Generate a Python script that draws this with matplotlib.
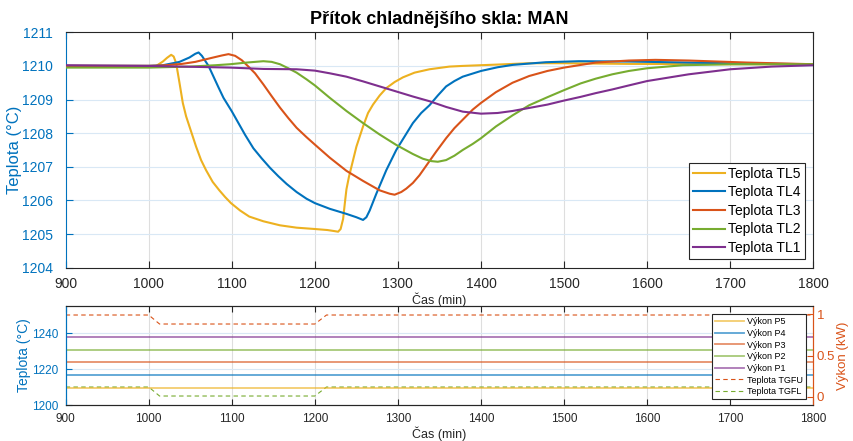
import matplotlib
matplotlib.use("Agg")
import matplotlib.pyplot as plt

plt.rcParams["font.family"] = ["Liberation Sans", "DejaVu Sans"]

# --- temperatures in the feeder (top panel) ---
t_tl5 = [900, 1000, 1009, 1017, 1022, 1027, 1030, 1033, 1037, 1041, 1045, 1049, 1057, 1063,
         1069, 1077, 1085, 1092, 1099, 1110, 1121, 1138, 1158, 1178, 1200, 1215, 1223, 1228,
         1231, 1234, 1236, 1238, 1241, 1244, 1250, 1258, 1264, 1270, 1278, 1286, 1296, 1306,
         1320, 1338, 1362, 1378, 1420, 1458, 1500, 1578, 1700, 1800]
tl5 = [1210.0, 1210.0, 1210.0, 1210.13, 1210.24, 1210.33, 1210.28, 1210.08, 1209.5, 1208.9,
       1208.5, 1208.2, 1207.6, 1207.2, 1206.9, 1206.55, 1206.3, 1206.1, 1205.92, 1205.7,
       1205.52, 1205.38, 1205.26, 1205.19, 1205.15, 1205.12, 1205.09, 1205.07, 1205.15,
       1205.45, 1205.9, 1206.33, 1206.7, 1207.0, 1207.6, 1208.2, 1208.6, 1208.85, 1209.12,
       1209.34, 1209.52, 1209.66, 1209.8, 1209.9, 1209.98, 1210.0, 1210.04, 1210.08, 1210.08,
       1210.06, 1210.05, 1210.05]

t_tl4 = [900, 1000, 1017, 1037, 1049, 1056, 1060, 1064, 1068, 1072, 1078, 1084, 1090, 1095,
         1100, 1108, 1116, 1126, 1136, 1146, 1156, 1166, 1178, 1190, 1200, 1218, 1238, 1250,
         1258, 1262, 1266, 1270, 1274, 1280, 1286, 1292, 1298, 1308, 1318, 1328, 1338, 1348,
         1358, 1368, 1378, 1400, 1420, 1438, 1478, 1518, 1578, 1650, 1720, 1800]
tl4 = [1210.0, 1210.0, 1210.02, 1210.12, 1210.25, 1210.36, 1210.4, 1210.3, 1210.15, 1210.0,
       1209.68, 1209.36, 1209.05, 1208.85, 1208.65, 1208.3, 1207.95, 1207.55, 1207.25,
       1206.97, 1206.72, 1206.49, 1206.25, 1206.05, 1205.92, 1205.75, 1205.6, 1205.5,
       1205.42, 1205.5, 1205.7, 1205.95, 1206.2, 1206.55, 1206.9, 1207.2, 1207.5, 1207.9,
       1208.3, 1208.6, 1208.83, 1209.12, 1209.39, 1209.55, 1209.68, 1209.85, 1209.96,
       1210.03, 1210.11, 1210.14, 1210.13, 1210.1, 1210.07, 1210.05]

t_tl3 = [900, 1000, 1020, 1040, 1056, 1076, 1088, 1096, 1104, 1112, 1120, 1128, 1138, 1148,
         1158, 1168, 1178, 1190, 1200, 1218, 1238, 1258, 1278, 1290, 1296, 1304, 1310, 1318,
         1326, 1336, 1346, 1358, 1368, 1378, 1390, 1400, 1418, 1438, 1458, 1480, 1500, 1538,
         1578, 1610, 1650, 1720, 1800]
tl3 = [1210.0, 1210.0, 1210.02, 1210.06, 1210.12, 1210.24, 1210.31, 1210.35, 1210.3, 1210.17,
       1209.98, 1209.78, 1209.45, 1209.1, 1208.76, 1208.45, 1208.16, 1207.88, 1207.66, 1207.27,
       1206.88, 1206.58, 1206.3, 1206.2, 1206.17, 1206.25, 1206.35, 1206.52, 1206.75, 1207.1,
       1207.45, 1207.85, 1208.15, 1208.4, 1208.7, 1208.9, 1209.22, 1209.5, 1209.7, 1209.85,
       1209.95, 1210.1, 1210.16, 1210.18, 1210.16, 1210.1, 1210.05]

t_tl2 = [900, 1000, 1050, 1080, 1098, 1118, 1138, 1148, 1158, 1168, 1178, 1190, 1200, 1218,
         1238, 1258, 1278, 1298, 1318, 1330, 1340, 1348, 1358, 1368, 1378, 1390, 1400, 1418,
         1438, 1458, 1480, 1500, 1520, 1538, 1558, 1578, 1600, 1643, 1700, 1800]
tl2 = [1209.95, 1209.95, 1209.98, 1210.02, 1210.05, 1210.1, 1210.14, 1210.12, 1210.05,
       1209.93, 1209.8, 1209.6, 1209.42, 1209.05, 1208.66, 1208.3, 1207.96, 1207.65, 1207.38,
       1207.24, 1207.17, 1207.15, 1207.2, 1207.33, 1207.5, 1207.68, 1207.85, 1208.2, 1208.53,
       1208.83, 1209.07, 1209.28, 1209.48, 1209.62, 1209.75, 1209.85, 1209.93, 1210.02,
       1210.05, 1210.05]

t_tl1 = [900, 1000, 1098, 1138, 1178, 1200, 1218, 1238, 1258, 1278, 1298, 1318, 1338, 1358,
         1378, 1400, 1420, 1438, 1458, 1480, 1500, 1520, 1538, 1558, 1578, 1600, 1650, 1700,
         1750, 1800]
tl1 = [1210.02, 1210.0, 1209.95, 1209.91, 1209.9, 1209.86, 1209.78, 1209.68, 1209.54, 1209.39,
       1209.24, 1209.09, 1208.95, 1208.78, 1208.64, 1208.58, 1208.6, 1208.66, 1208.75, 1208.85,
       1208.97, 1209.08, 1209.19, 1209.3, 1209.42, 1209.55, 1209.75, 1209.9, 1209.98, 1210.02]

# --- burner powers and glass temperatures (bottom panel) ---
t_pow = [900, 1800]
p5 = [0.11, 0.11]
p4 = [0.26, 0.26]
p3 = [0.42, 0.42]
p2 = [0.57, 0.57]
p1 = [0.72, 0.72]

t_tgf = [900, 1000, 1013, 1200, 1214, 1800]
tgfu = [1250, 1250, 1245, 1245, 1250, 1250]
tgfl = [1210, 1210, 1205, 1205, 1210, 1210]

x_ticks = list(range(900, 1801, 100))

C_YEL = (0.929, 0.694, 0.125)
C_BLU = (0.0, 0.447, 0.741)
C_ORA = (0.85, 0.325, 0.098)
C_GRN = (0.466, 0.674, 0.188)
C_PUR = (0.494, 0.184, 0.556)
DARK = (0.15, 0.15, 0.15)
VGRID = (0.87, 0.87, 0.87)
HGRID = (0.85, 0.91, 0.96)

fig = plt.figure(figsize=(8.54, 4.41), dpi=100)

# ---------- top panel ----------
ax = fig.add_axes([0.0769, 0.3930, 0.8754, 0.5338])
for t, y, c, lab in [(t_tl5, tl5, C_YEL, "Teplota TL5"), (t_tl4, tl4, C_BLU, "Teplota TL4"),
                     (t_tl3, tl3, C_ORA, "Teplota TL3"), (t_tl2, tl2, C_GRN, "Teplota TL2"),
                     (t_tl1, tl1, C_PUR, "Teplota TL1")]:
    ax.plot(t, y, color=c, lw=1.5, label=lab, zorder=3)
ax.set_xlim(900, 1800)
ax.set_ylim(1204, 1211)
ax.set_xticks(x_ticks)
ax.set_yticks(range(1204, 1212))
for v in x_ticks[1:-1]:
    ax.axvline(v, color=VGRID, lw=0.8, zorder=1)
for v in range(1205, 1211):
    ax.axhline(v, color=HGRID, lw=0.8, zorder=1)
ax.tick_params(axis="x", direction="in", length=5, colors=DARK, labelsize=10,
               top=True, pad=7)
ax.tick_params(axis="y", direction="in", length=5, colors=C_BLU, labelsize=10,
               right=False, pad=9)
for s in ["top", "bottom", "right"]:
    ax.spines[s].set_color(DARK)
ax.spines["left"].set_color(C_BLU)
for s in ax.spines.values():
    s.set_linewidth(0.8)
ax.set_ylabel("Teplota (°C)", color=C_BLU, fontsize=12, labelpad=0)
ax.set_xlabel("Čas (min)", color=DARK, fontsize=9, labelpad=1)
ax.set_title("Přítok chladnějšího skla: MAN", fontsize=13, fontweight="bold", pad=6)
leg = ax.legend(loc="lower right", bbox_to_anchor=(0.989, 0.036), borderaxespad=0,
                fontsize=10, handlelength=2.3, handletextpad=0.25, labelspacing=0.33,
                borderpad=0.3, fancybox=False, framealpha=1, edgecolor=DARK)
leg.get_frame().set_linewidth(0.8)

# ---------- bottom panel ----------
bx = fig.add_axes([0.0769, 0.0816, 0.8754, 0.2245])
bx2 = bx.twinx()
h_tgfu, = bx.plot(t_tgf, tgfu, color=C_ORA, lw=0.8, ls=(0, (4, 3)), label="Teplota TGFU")
h_tgfl, = bx.plot(t_tgf, tgfl, color=C_GRN, lw=0.8, ls=(0, (4, 3)), label="Teplota TGFL")
bx.set_xlim(900, 1800)
bx.set_ylim(1200, 1255)
bx.set_xticks(x_ticks)
bx.set_yticks([1200, 1220, 1240])
for v in x_ticks[1:-1]:
    bx.axvline(v, color=VGRID, lw=0.8, zorder=0)
for v in [1220, 1240]:
    bx.axhline(v, color=HGRID, lw=0.8, zorder=0)

hp = []
for y, c, lab in [(p5, C_YEL, "Výkon P5"), (p4, C_BLU, "Výkon P4"), (p3, C_ORA, "Výkon P3"),
                  (p2, C_GRN, "Výkon P2"), (p1, C_PUR, "Výkon P1")]:
    h, = bx2.plot(t_pow, y, color=c, lw=1.3, alpha=0.65, label=lab)
    hp.append(h)
bx2.set_ylim(-0.1, 1.1)
bx2.set_yticks([0, 0.5, 1])
bx2.set_yticklabels(["0", "0.5", "1"])

bx.tick_params(axis="x", direction="in", length=4.5, colors=DARK, labelsize=8.5,
               top=True, pad=6)
bx.tick_params(axis="y", direction="in", length=4.5, colors=C_BLU, labelsize=8.5, pad=5)
bx2.tick_params(axis="y", direction="in", length=4.5, colors=C_ORA, labelsize=9.5, pad=2.5)
for a in (bx, bx2):
    a.spines["top"].set_color(DARK)
    a.spines["bottom"].set_color(DARK)
    a.spines["left"].set_color(C_BLU)
    a.spines["right"].set_color(C_ORA)
    for s in a.spines.values():
        s.set_linewidth(0.8)
bx.set_ylabel("Teplota (°C)", color=C_BLU, fontsize=10, labelpad=1)
bx2.set_ylabel("Výkon (kW)", color=C_ORA, fontsize=9.5, labelpad=1)
bx.set_xlabel("Čas (min)", color=DARK, fontsize=9, labelpad=1)

leg2 = bx2.legend(hp + [h_tgfu, h_tgfl], [h.get_label() for h in hp + [h_tgfu, h_tgfl]],
                  loc="lower right", bbox_to_anchor=(0.990, 0.06), borderaxespad=0,
                  fontsize=6.5, handlelength=3.3, handletextpad=0.3, labelspacing=0.3,
                  borderpad=0.3, fancybox=False, framealpha=1, edgecolor=DARK)
leg2.get_frame().set_linewidth(0.8)

fig.savefig("out.png", dpi=100)
